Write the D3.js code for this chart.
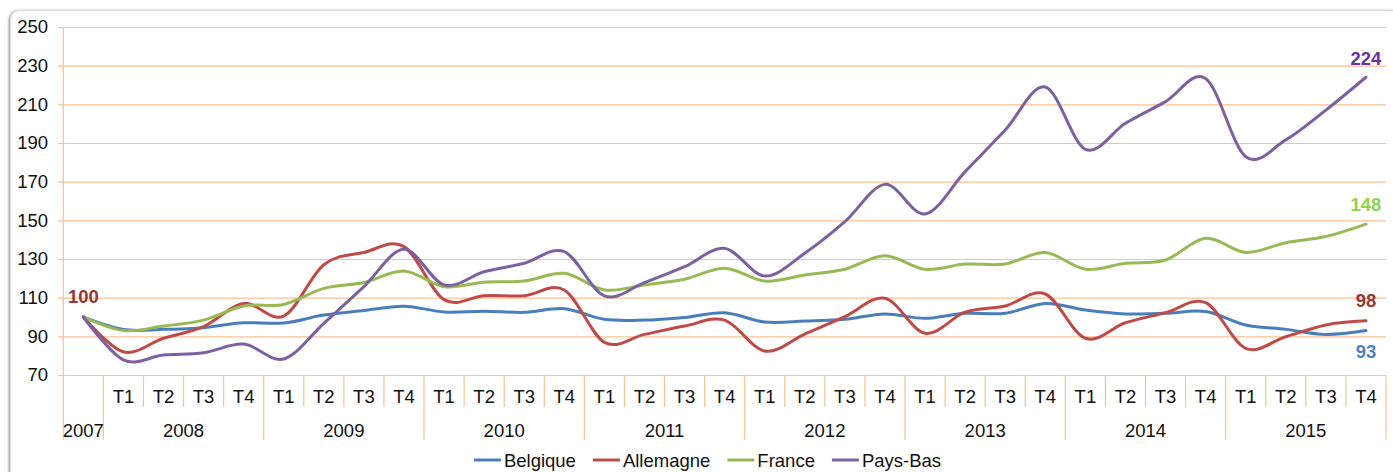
<!DOCTYPE html>
<html>
<head>
<meta charset="utf-8">
<script src="https://cdn.jsdelivr.net/npm/d3@7"></script>
<style>
  html, body { margin: 0; padding: 0; background: #fff; }
  svg { display: block; }
  text { font-family: "Liberation Sans", Arial, Helvetica, sans-serif; }
</style>
</head>
<body>
<svg id="chart" width="1393" height="472"></svg>
<script>
// ---------------- data ----------------
const years = ["2007", "2008", "2009", "2010", "2011", "2012", "2013", "2014", "2015"];
const quarterLabels = ["T1", "T2", "T3", "T4"];
const yTicks = [70, 90, 110, 130, 150, 170, 190, 210, 230, 250];

const belgique  = [100, 93.5, 93.6, 94.5, 97, 96.9, 101, 103.4, 105.6, 102.6, 103, 102.4, 104.3, 98.8, 98.4, 99.8, 102.2, 97.4, 97.9, 98.8, 101.6, 99.3, 101.9, 101.9, 107, 103.6, 101.6, 101.9, 102.8, 95.9, 93.6, 91, 93];
const allemagne = [100, 82, 89, 95, 107, 100.5, 127, 133.4, 136.4, 109, 111, 111, 114, 86.9, 91, 95.3, 98.4, 82.4, 91.2, 100.2, 109.7, 91.6, 102.5, 105.7, 111.9, 89, 97, 102.2, 107.4, 83.8, 89.8, 95.9, 98];
const france    = [100, 93, 95.3, 98.4, 105.7, 106.5, 114.8, 117.8, 123.8, 115.7, 118, 118.6, 122.6, 114, 116.6, 119.5, 125.2, 118.6, 121.7, 124.7, 131.7, 124.7, 127.4, 127.4, 133.3, 124.7, 127.8, 129.5, 140.7, 133.4, 138.4, 141.6, 148];
const paysBas   = [100, 77.8, 80.3, 81.5, 86, 78.3, 96.7, 115.7, 135, 116.6, 123.4, 127.8, 133.8, 110.9, 117.8, 126, 135.5, 121.2, 133, 149.3, 168.6, 153.3, 175.2, 196.7, 219, 186.7, 200.2, 211.4, 223.4, 182.9, 191.6, 207, 224];

const seriesNames = ["Belgique", "Allemagne", "France", "Pays-Bas"];
const seriesColors = ["#4A7EBB", "#BE4B48", "#98B954", "#7D60A0"];
const labelColors = ["#4F81BD", "#953735", "#92D050", "#7030A0"];

// categories built from arrays: first year alone, then quarters
const periods = [{ year: years[0], q: "" }];
years.slice(1).forEach(yr => quarterLabels.forEach(q => periods.push({ year: yr, q })));
const keys = periods.map((p, i) => i);

const series = [belgique, allemagne, france, paysBas].map((vals, i) => ({
  name: seriesNames[i], color: seriesColors[i], labelColor: labelColors[i], values: vals
}));

// ---------------- layout ----------------
const svg = d3.select("#chart");
const plotLeft = 63.3, plotRight = 1386, plotTop = 27, plotBottom = 375;

const defs = svg.append("defs");
const f = defs.append("filter").attr("id", "shadow").attr("x", "-5%").attr("y", "-5%").attr("width", "110%").attr("height", "110%");
f.append("feDropShadow").attr("dx", -1.2).attr("dy", 0.5).attr("stdDeviation", 1).attr("flood-color", "#777").attr("flood-opacity", 0.8);

// frame
svg.append("rect")
  .attr("x", 10.5).attr("y", 10.5).attr("width", 1390).attr("height", 500)
  .attr("rx", 9).attr("fill", "#fff").attr("stroke", "#dcdcdc")
  .attr("filter", "url(#shadow)");

const x = d3.scaleBand().domain(keys).range([plotLeft, plotRight]).padding(0);
const y = d3.scaleLinear().domain([70, 250]).range([plotBottom, plotTop]);

const gridColor = "#F9C291";

// y axis with gridlines
const yAxis = d3.axisLeft(y).tickValues(yTicks).tickSize(-(plotRight - 58)).tickPadding(10);
const gy = svg.append("g").attr("transform", "translate(58,0)").call(yAxis);
gy.select(".domain").remove();
gy.selectAll(".tick line").attr("stroke", gridColor).attr("stroke-width", 1.2);
gy.selectAll(".tick text").attr("fill", "#111").style("font-size", "18.5px")
  .style("font-family", '"Liberation Sans", Arial, sans-serif');

// vertical axis line
svg.append("line").attr("x1", plotLeft).attr("x2", plotLeft).attr("y1", plotTop).attr("y2", 440)
  .attr("stroke", gridColor).attr("stroke-width", 1.2);

// category separators
const bounds = keys.map(k => x(k)).concat([plotRight]);
bounds.forEach((bx, i) => {
  if (i === 0) return;
  const full = (i === 1) || ((i - 1) % 4 === 0) || i === keys.length;
  svg.append("line").attr("x1", bx).attr("x2", bx).attr("y1", plotBottom).attr("y2", full ? 440 : 407)
    .attr("stroke", gridColor).attr("stroke-width", 1.2);
});

// quarter labels
svg.append("g").selectAll("text").data(periods).join("text")
  .attr("x", (d, i) => x(i) + x.bandwidth() / 2)
  .attr("y", 403)
  .attr("text-anchor", "middle")
  .attr("fill", "#111")
  .style("font-size", "18.5px")
  .text(d => d.q);

// year labels
const yearCenters = years.map(yr => {
  const idx = periods.map((p, i) => p.year === yr ? i : -1).filter(i => i >= 0);
  return { yr, cx: (x(idx[0]) + x(idx[idx.length - 1]) + x.bandwidth()) / 2 };
});
svg.append("g").selectAll("text").data(yearCenters).join("text")
  .attr("x", d => d.cx).attr("y", 437)
  .attr("text-anchor", "middle").attr("fill", "#111")
  .style("font-size", "18.5px")
  .text(d => d.yr);

// lines
const line = d3.line()
  .x((d, i) => x(i) + x.bandwidth() / 2)
  .y(d => y(d))
  .curve(d3.curveCatmullRom.alpha(0));

svg.append("g").selectAll("path").data(series).join("path")
  .attr("d", d => line(d.values))
  .attr("fill", "none")
  .attr("stroke", d => d.color)
  .attr("stroke-width", 3)
  .attr("stroke-linejoin", "round")
  .attr("stroke-linecap", "round");

// end labels
const last = keys.length - 1;
const cxLast = x(last) + x.bandwidth() / 2;
const endOffsets = [27, -14, -13, -12];
series.forEach((s, i) => {
  const v = s.values[last];
  svg.append("text")
    .attr("x", cxLast).attr("y", y(v) + endOffsets[i])
    .attr("text-anchor", "middle")
    .attr("fill", s.labelColor)
    .style("font-size", "18.5px").style("font-weight", "bold")
    .text(Math.round(v));
});
// start label
svg.append("text")
  .attr("x", x(0) + x.bandwidth() / 2).attr("y", y(allemagne[0]) - 14)
  .attr("text-anchor", "middle").attr("fill", labelColors[1])
  .style("font-size", "18.5px").style("font-weight", "bold")
  .text(allemagne[0]);

// legend
const legend = svg.append("g");
let lx = 0;
series.forEach(s => {
  const g = legend.append("g");
  g.append("line").attr("x1", 0).attr("x2", 27).attr("y1", 0).attr("y2", 0)
    .attr("stroke", s.color).attr("stroke-width", 3);
  const t = g.append("text").attr("x", 30).attr("y", 7).attr("fill", "#111")
    .style("font-size", "18.5px").text(s.name);
  const w = 30 + t.node().getComputedTextLength();
  g.attr("transform", `translate(${lx},0)`);
  lx += w + 17;
});
const totalW = lx - 17;
legend.attr("transform", `translate(${707.5 - totalW / 2},460)`);
</script>
</body>
</html>
